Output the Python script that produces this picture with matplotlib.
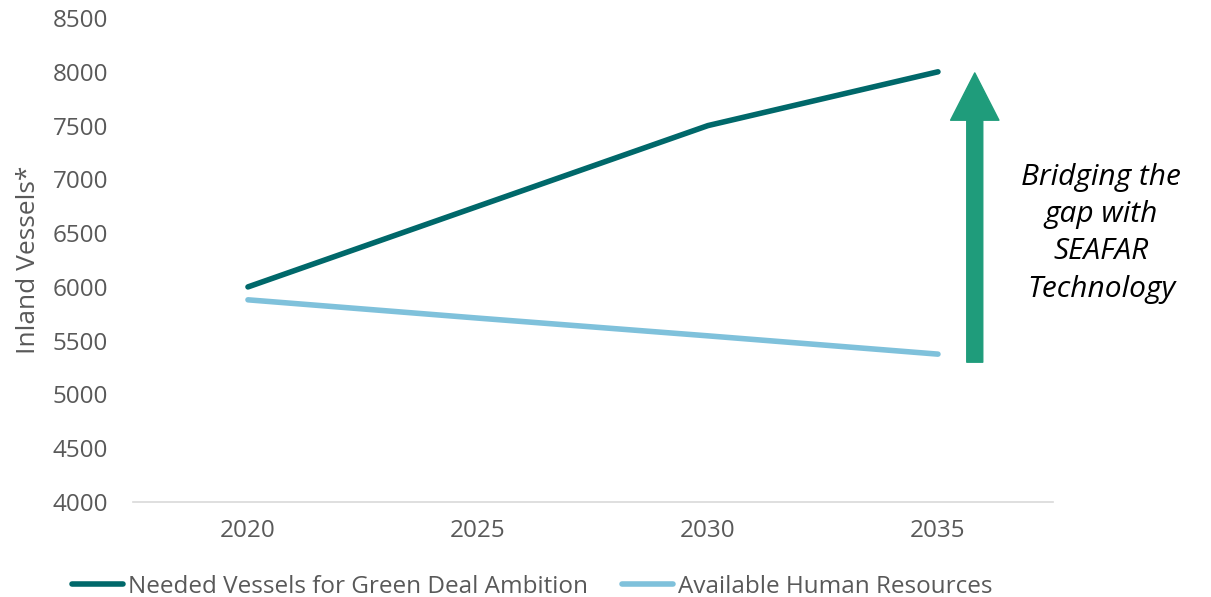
import matplotlib.pyplot as plt

years = ['2020', '2025', '2030', '2035']
needed_vessels = [6000, 6750, 7500, 8000]
available_hr = [5880, 5710, 5545, 5375]

plt.rcParams['font.family'] = ['Open Sans', 'DejaVu Sans']

fig = plt.figure(figsize=(12.11, 5.97), dpi=100)
ax = fig.add_axes([0.1098, 0.1591, 0.7597, 0.8107])

x = range(len(years))
ax.plot(x, needed_vessels, color='#00686a', lw=4, solid_capstyle='round',
        label='Needed Vessels for Green Deal Ambition')
ax.plot(x, available_hr, color='#7fc1db', lw=4, solid_capstyle='round',
        label='Available Human Resources')

ax.set_xlim(-0.5, 3.5)
ax.set_ylim(4000, 8500)
ax.set_yticks(range(4000, 8501, 500))
ax.set_xticks(list(x))
ax.set_xticklabels(years)
ax.tick_params(colors='#595959', labelsize=17.5, length=0)
ax.tick_params(axis='y', pad=18)
ax.tick_params(axis='x', pad=12)
for s in ['top', 'right', 'left']:
    ax.spines[s].set_visible(False)
ax.spines['bottom'].set_color('#d9d9d9')
ax.spines['bottom'].set_linewidth(1.2)

ax.set_ylabel('Inland Vessels*', fontsize=19, color='#595959')
ax.yaxis.set_label_coords(-0.1, 0.5)

# gap arrow
ax.annotate('', xy=(3.16, 7990), xytext=(3.16, 5300),
            arrowprops=dict(arrowstyle='simple,head_length=1.42,head_width=1.45,tail_width=0.48',
                            color='#1f9c7b', mutation_scale=24, shrinkA=0, shrinkB=0))
ax.text(3.71, 6500, 'Bridging the\ngap with\nSEAFAR\nTechnology', ha='center', va='center',
        fontsize=21.5, style='italic', color='black', linespacing=1.38, clip_on=False)

ax.legend(loc='center left', bbox_to_anchor=(72 / 1211, 1 - 587 / 597),
          bbox_transform=fig.transFigure, ncol=2, frameon=False,
          borderpad=0, borderaxespad=0,
          fontsize=17.5, labelcolor='#595959', handlelength=2.1, handletextpad=0.2,
          columnspacing=1.4)

fig.savefig('out.png', dpi=100)
